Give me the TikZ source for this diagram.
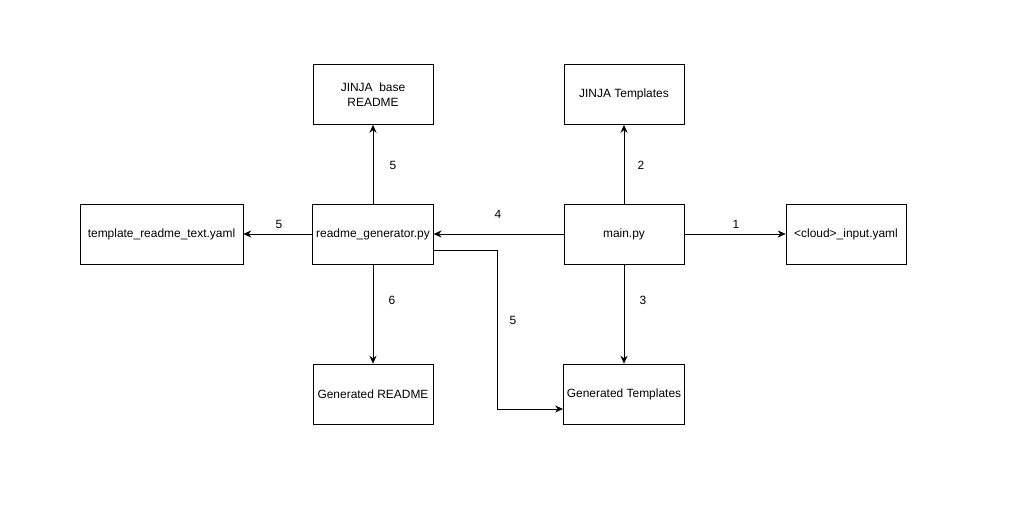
\documentclass[tikz,border=0pt]{standalone}
\usepackage{fontspec}
\setmainfont{Liberation Sans}
\usepackage{tikz}
\usetikzlibrary{arrows.meta}

\begin{document}
\begin{tikzpicture}[x=0.02cm, y=-0.02cm,
	box/.style={draw, thin, minimum width=2.4cm, minimum height=1.2cm, align=center, inner sep=2pt, font=\fontsize{6.8}{8.5}\selectfont},
	num/.style={font=\fontsize{6.8}{8.5}\selectfont},
	conn/.style={thin, -{Stealth[length=4.5pt, width=4pt]}}]
			\useasboundingbox (0, 0) rectangle (1032, 509);
			% boxes
			\begin{scope}
				\node[box] (jbase) at (373, 94.5) {JINJA\ \ base\\README};
				\node[box] (jtpl) at (624, 94.5) {JINJA Templates};
				\node[box, minimum width=3.26cm] (tyaml) at (161.5, 234) {template\_readme\_text.yaml};
				\node[box] (rgen) at (373, 234) {readme\_generator.py};
				\node[box] (mainpy) at (624, 234) {main.py};
				\node[box] (cloud) at (846, 234) {<cloud>\_input.yaml};
				\node[box] (genreadme) at (373, 394) {Generated README};
				\node[box] (gentpl) at (624, 394) {Generated Templates};
			\end{scope}
			% arrows
			\draw[conn] (mainpy) -- (cloud);
			\draw[conn] (mainpy) -- (jtpl);
			\draw[conn] (mainpy) -- (gentpl);
			\draw[conn] (mainpy) -- (rgen);
			\draw[conn] (rgen) -- (jbase);
			\draw[conn] (rgen) -- (tyaml);
			\draw[conn] (rgen) -- (genreadme);
			\draw[conn] (rgen.east |- 0, 250) -- (497, 250) -- (497, 409) -- (gentpl.west |- 0, 409);
			% numbers
			\node[num] (n1) at (736, 224) {1};
			\node[num] (n2) at (641, 165) {2};
			\node[num] (n3) at (643, 300) {3};
			\node[num] (n4) at (498, 214) {4};
			\node[num] (n5a) at (393, 165) {5};
			\node[num] (n5b) at (279, 224) {5};
			\node[num] (n5c) at (513, 320) {5};
			\node[num] (n6) at (392, 300) {6};
		\end{tikzpicture}
\end{document}
